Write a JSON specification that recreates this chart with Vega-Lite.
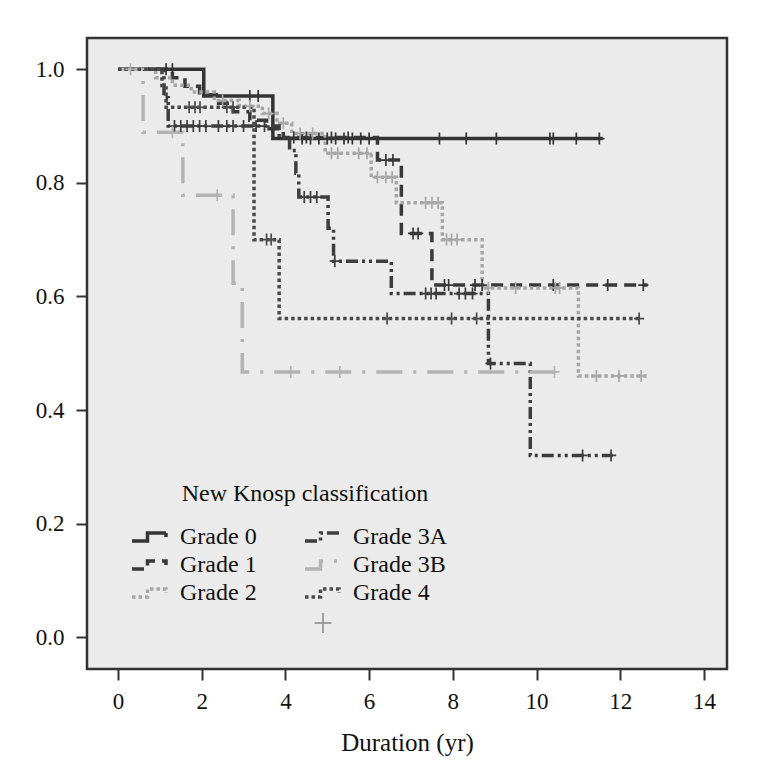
{
  "$schema": "https://vega.github.io/schema/vega-lite/v6.json",
  "width": 640,
  "height": 631,
  "autosize": {"type": "none"},
  "padding": {"left": 87, "top": 38, "right": 39, "bottom": 111},
  "background": "white",
  "config": {
    "font": "Liberation Serif",
    "view": {"fill": "#ebebeb", "stroke": "#333333", "strokeWidth": 2.5},
    "axis": {"grid": false, "domain": false, "tickColor": "#333333", "tickWidth": 2, "tickSize": 11, "labelFontSize": 23, "labelColor": "#111111", "titleFontSize": 25, "titleFontWeight": "normal", "titleColor": "#111111", "labelFont": "Liberation Serif", "titleFont": "Liberation Serif"}
  },
  "datasets": {
    "steps": [
      {"grade": "Grade 0", "t": 0, "s": 1.0},
      {"grade": "Grade 0", "t": 2.05, "s": 0.953},
      {"grade": "Grade 0", "t": 3.7, "s": 0.878},
      {"grade": "Grade 0", "t": 11.58, "s": 0.878},
      {"grade": "Grade 1", "t": 0, "s": 1.0},
      {"grade": "Grade 1", "t": 1.3, "s": 0.985},
      {"grade": "Grade 1", "t": 1.6, "s": 0.97},
      {"grade": "Grade 1", "t": 1.95, "s": 0.955},
      {"grade": "Grade 1", "t": 2.35, "s": 0.94},
      {"grade": "Grade 1", "t": 2.75, "s": 0.925},
      {"grade": "Grade 1", "t": 3.15, "s": 0.91},
      {"grade": "Grade 1", "t": 3.55, "s": 0.895},
      {"grade": "Grade 1", "t": 3.95, "s": 0.88},
      {"grade": "Grade 1", "t": 6.2, "s": 0.84},
      {"grade": "Grade 1", "t": 6.77, "s": 0.711},
      {"grade": "Grade 1", "t": 7.5, "s": 0.62},
      {"grade": "Grade 1", "t": 12.65, "s": 0.62},
      {"grade": "Grade 2", "t": 0, "s": 1.0},
      {"grade": "Grade 2", "t": 0.9, "s": 0.985},
      {"grade": "Grade 2", "t": 1.3, "s": 0.972},
      {"grade": "Grade 2", "t": 1.75, "s": 0.96},
      {"grade": "Grade 2", "t": 2.3, "s": 0.945},
      {"grade": "Grade 2", "t": 2.9, "s": 0.935},
      {"grade": "Grade 2", "t": 3.45, "s": 0.922},
      {"grade": "Grade 2", "t": 3.8, "s": 0.905},
      {"grade": "Grade 2", "t": 4.15, "s": 0.887},
      {"grade": "Grade 2", "t": 4.95, "s": 0.852},
      {"grade": "Grade 2", "t": 6.05, "s": 0.81},
      {"grade": "Grade 2", "t": 6.65, "s": 0.765},
      {"grade": "Grade 2", "t": 7.75, "s": 0.70},
      {"grade": "Grade 2", "t": 8.7, "s": 0.615},
      {"grade": "Grade 2", "t": 11.0, "s": 0.46},
      {"grade": "Grade 2", "t": 12.63, "s": 0.46},
      {"grade": "Grade 3A", "t": 0, "s": 1.0},
      {"grade": "Grade 3A", "t": 1.1, "s": 0.95},
      {"grade": "Grade 3A", "t": 1.2, "s": 0.90},
      {"grade": "Grade 3A", "t": 3.85, "s": 0.88},
      {"grade": "Grade 3A", "t": 4.1, "s": 0.857},
      {"grade": "Grade 3A", "t": 4.25, "s": 0.817},
      {"grade": "Grade 3A", "t": 4.32, "s": 0.775},
      {"grade": "Grade 3A", "t": 5.02, "s": 0.72},
      {"grade": "Grade 3A", "t": 5.15, "s": 0.662},
      {"grade": "Grade 3A", "t": 6.53, "s": 0.605},
      {"grade": "Grade 3A", "t": 8.85, "s": 0.482},
      {"grade": "Grade 3A", "t": 9.85, "s": 0.32},
      {"grade": "Grade 3A", "t": 11.82, "s": 0.32},
      {"grade": "Grade 3B", "t": 0, "s": 1.0},
      {"grade": "Grade 3B", "t": 0.6, "s": 0.889},
      {"grade": "Grade 3B", "t": 1.55, "s": 0.778},
      {"grade": "Grade 3B", "t": 2.75, "s": 0.623},
      {"grade": "Grade 3B", "t": 2.97, "s": 0.467},
      {"grade": "Grade 3B", "t": 10.48, "s": 0.467},
      {"grade": "Grade 4", "t": 0, "s": 1.0},
      {"grade": "Grade 4", "t": 1.05, "s": 0.967},
      {"grade": "Grade 4", "t": 1.15, "s": 0.933},
      {"grade": "Grade 4", "t": 3.25, "s": 0.70},
      {"grade": "Grade 4", "t": 3.85, "s": 0.561},
      {"grade": "Grade 4", "t": 12.5, "s": 0.561}
    ],
    "cens": [
      {"grade": "Grade 0", "t": 1.15, "s": 1.0, "kind": "cens"},
      {"grade": "Grade 0", "t": 1.3, "s": 1.0, "kind": "cens"},
      {"grade": "Grade 0", "t": 3.15, "s": 0.953, "kind": "cens"},
      {"grade": "Grade 0", "t": 3.35, "s": 0.953, "kind": "cens"},
      {"grade": "Grade 0", "t": 4.4, "s": 0.878, "kind": "cens"},
      {"grade": "Grade 0", "t": 4.6, "s": 0.878, "kind": "cens"},
      {"grade": "Grade 0", "t": 4.8, "s": 0.878, "kind": "cens"},
      {"grade": "Grade 0", "t": 5.0, "s": 0.878, "kind": "cens"},
      {"grade": "Grade 0", "t": 5.2, "s": 0.878, "kind": "cens"},
      {"grade": "Grade 0", "t": 5.4, "s": 0.878, "kind": "cens"},
      {"grade": "Grade 0", "t": 5.6, "s": 0.878, "kind": "cens"},
      {"grade": "Grade 0", "t": 5.8, "s": 0.878, "kind": "cens"},
      {"grade": "Grade 0", "t": 6.0, "s": 0.878, "kind": "cens"},
      {"grade": "Grade 0", "t": 7.68, "s": 0.878, "kind": "cens"},
      {"grade": "Grade 0", "t": 8.32, "s": 0.878, "kind": "cens"},
      {"grade": "Grade 0", "t": 9.04, "s": 0.878, "kind": "cens"},
      {"grade": "Grade 0", "t": 10.32, "s": 0.878, "kind": "cens"},
      {"grade": "Grade 0", "t": 10.4, "s": 0.878, "kind": "cens"},
      {"grade": "Grade 0", "t": 10.95, "s": 0.878, "kind": "cens"},
      {"grade": "Grade 0", "t": 11.5, "s": 0.878, "kind": "cens"},
      {"grade": "Grade 1", "t": 4.2, "s": 0.88, "kind": "cens"},
      {"grade": "Grade 1", "t": 4.5, "s": 0.88, "kind": "cens"},
      {"grade": "Grade 1", "t": 5.1, "s": 0.88, "kind": "cens"},
      {"grade": "Grade 1", "t": 5.5, "s": 0.88, "kind": "cens"},
      {"grade": "Grade 1", "t": 6.4, "s": 0.84, "kind": "cens"},
      {"grade": "Grade 1", "t": 6.57, "s": 0.84, "kind": "cens"},
      {"grade": "Grade 1", "t": 7.05, "s": 0.711, "kind": "cens"},
      {"grade": "Grade 1", "t": 7.17, "s": 0.711, "kind": "cens"},
      {"grade": "Grade 1", "t": 7.8, "s": 0.62, "kind": "cens"},
      {"grade": "Grade 1", "t": 7.9, "s": 0.62, "kind": "cens"},
      {"grade": "Grade 1", "t": 8.53, "s": 0.62, "kind": "cens"},
      {"grade": "Grade 1", "t": 8.7, "s": 0.62, "kind": "cens"},
      {"grade": "Grade 1", "t": 10.4, "s": 0.62, "kind": "cens"},
      {"grade": "Grade 1", "t": 11.7, "s": 0.62, "kind": "cens"},
      {"grade": "Grade 1", "t": 12.55, "s": 0.62, "kind": "cens"},
      {"grade": "Grade 2", "t": 2.5, "s": 0.945, "kind": "cens"},
      {"grade": "Grade 2", "t": 3.15, "s": 0.935, "kind": "cens"},
      {"grade": "Grade 2", "t": 3.6, "s": 0.922, "kind": "cens"},
      {"grade": "Grade 2", "t": 3.95, "s": 0.905, "kind": "cens"},
      {"grade": "Grade 2", "t": 4.35, "s": 0.887, "kind": "cens"},
      {"grade": "Grade 2", "t": 4.65, "s": 0.887, "kind": "cens"},
      {"grade": "Grade 2", "t": 5.1, "s": 0.852, "kind": "cens"},
      {"grade": "Grade 2", "t": 5.25, "s": 0.852, "kind": "cens"},
      {"grade": "Grade 2", "t": 5.75, "s": 0.852, "kind": "cens"},
      {"grade": "Grade 2", "t": 5.95, "s": 0.852, "kind": "cens"},
      {"grade": "Grade 2", "t": 6.2, "s": 0.81, "kind": "cens"},
      {"grade": "Grade 2", "t": 6.4, "s": 0.81, "kind": "cens"},
      {"grade": "Grade 2", "t": 6.55, "s": 0.81, "kind": "cens"},
      {"grade": "Grade 2", "t": 7.35, "s": 0.765, "kind": "cens"},
      {"grade": "Grade 2", "t": 7.5, "s": 0.765, "kind": "cens"},
      {"grade": "Grade 2", "t": 7.65, "s": 0.765, "kind": "cens"},
      {"grade": "Grade 2", "t": 7.85, "s": 0.70, "kind": "cens"},
      {"grade": "Grade 2", "t": 7.97, "s": 0.70, "kind": "cens"},
      {"grade": "Grade 2", "t": 8.1, "s": 0.70, "kind": "cens"},
      {"grade": "Grade 2", "t": 8.85, "s": 0.615, "kind": "cens"},
      {"grade": "Grade 2", "t": 9.5, "s": 0.615, "kind": "cens"},
      {"grade": "Grade 2", "t": 10.45, "s": 0.615, "kind": "cens"},
      {"grade": "Grade 2", "t": 10.55, "s": 0.615, "kind": "cens"},
      {"grade": "Grade 2", "t": 11.43, "s": 0.46, "kind": "cens"},
      {"grade": "Grade 2", "t": 11.97, "s": 0.46, "kind": "cens"},
      {"grade": "Grade 2", "t": 12.5, "s": 0.46, "kind": "cens"},
      {"grade": "Grade 3A", "t": 1.35, "s": 0.90, "kind": "cens"},
      {"grade": "Grade 3A", "t": 1.5, "s": 0.90, "kind": "cens"},
      {"grade": "Grade 3A", "t": 1.65, "s": 0.90, "kind": "cens"},
      {"grade": "Grade 3A", "t": 1.8, "s": 0.90, "kind": "cens"},
      {"grade": "Grade 3A", "t": 1.95, "s": 0.90, "kind": "cens"},
      {"grade": "Grade 3A", "t": 2.1, "s": 0.90, "kind": "cens"},
      {"grade": "Grade 3A", "t": 2.4, "s": 0.90, "kind": "cens"},
      {"grade": "Grade 3A", "t": 2.6, "s": 0.90, "kind": "cens"},
      {"grade": "Grade 3A", "t": 2.75, "s": 0.90, "kind": "cens"},
      {"grade": "Grade 3A", "t": 3.0, "s": 0.90, "kind": "cens"},
      {"grade": "Grade 3A", "t": 3.3, "s": 0.90, "kind": "cens"},
      {"grade": "Grade 3A", "t": 3.5, "s": 0.90, "kind": "cens"},
      {"grade": "Grade 3A", "t": 4.45, "s": 0.775, "kind": "cens"},
      {"grade": "Grade 3A", "t": 4.6, "s": 0.775, "kind": "cens"},
      {"grade": "Grade 3A", "t": 4.75, "s": 0.775, "kind": "cens"},
      {"grade": "Grade 3A", "t": 5.18, "s": 0.662, "kind": "cens"},
      {"grade": "Grade 3A", "t": 7.35, "s": 0.605, "kind": "cens"},
      {"grade": "Grade 3A", "t": 7.48, "s": 0.605, "kind": "cens"},
      {"grade": "Grade 3A", "t": 7.6, "s": 0.605, "kind": "cens"},
      {"grade": "Grade 3A", "t": 8.15, "s": 0.605, "kind": "cens"},
      {"grade": "Grade 3A", "t": 8.3, "s": 0.605, "kind": "cens"},
      {"grade": "Grade 3A", "t": 8.47, "s": 0.605, "kind": "cens"},
      {"grade": "Grade 3A", "t": 8.9, "s": 0.482, "kind": "cens"},
      {"grade": "Grade 3A", "t": 11.1, "s": 0.32, "kind": "cens"},
      {"grade": "Grade 3A", "t": 11.78, "s": 0.32, "kind": "cens"},
      {"grade": "Grade 3B", "t": 0.3, "s": 1.0, "kind": "cens"},
      {"grade": "Grade 3B", "t": 1.3, "s": 0.889, "kind": "cens"},
      {"grade": "Grade 3B", "t": 2.37, "s": 0.778, "kind": "cens"},
      {"grade": "Grade 3B", "t": 4.13, "s": 0.467, "kind": "cens"},
      {"grade": "Grade 3B", "t": 5.3, "s": 0.467, "kind": "cens"},
      {"grade": "Grade 3B", "t": 10.43, "s": 0.467, "kind": "cens"},
      {"grade": "Grade 4", "t": 1.7, "s": 0.933, "kind": "cens"},
      {"grade": "Grade 4", "t": 1.84, "s": 0.933, "kind": "cens"},
      {"grade": "Grade 4", "t": 1.96, "s": 0.933, "kind": "cens"},
      {"grade": "Grade 4", "t": 2.6, "s": 0.933, "kind": "cens"},
      {"grade": "Grade 4", "t": 2.75, "s": 0.933, "kind": "cens"},
      {"grade": "Grade 4", "t": 3.55, "s": 0.70, "kind": "cens"},
      {"grade": "Grade 4", "t": 3.66, "s": 0.70, "kind": "cens"},
      {"grade": "Grade 4", "t": 6.43, "s": 0.561, "kind": "cens"},
      {"grade": "Grade 4", "t": 7.97, "s": 0.561, "kind": "cens"},
      {"grade": "Grade 4", "t": 8.57, "s": 0.561, "kind": "cens"},
      {"grade": "Grade 4", "t": 12.45, "s": 0.561, "kind": "cens"}
    ]
  },
  "layer": [
    {
      "data": {"name": "steps"},
      "mark": {"type": "line", "interpolate": "step-after", "strokeWidth": 3.5},
      "encoding": {
        "x": {"field": "t", "type": "quantitative", "scale": {"domain": [-0.74, 14.55], "nice": false, "zero": false}, "axis": {"values": [0, 2, 4, 6, 8, 10, 12, 14], "title": "Duration (yr)", "labelPadding": 10, "titlePadding": 17}},
        "y": {"field": "s", "type": "quantitative", "scale": {"domain": [-0.056, 1.055], "nice": false, "zero": false}, "axis": {"values": [0, 0.2, 0.4, 0.6, 0.8, 1.0], "format": ".1f", "title": null, "labelPadding": 12}},
        "color": {
          "field": "grade", "type": "nominal",
          "scale": {"domain": ["Grade 0", "Grade 1", "Grade 2", "Grade 3A", "Grade 3B", "Grade 4"], "range": ["#333333", "#383838", "#a6a6a6", "#3d3d3d", "#b3b3b3", "#4a4a4a"]},
          "legend": {"title": "New Knosp classification", "orient": "none", "legendX": 52, "legendY": 444, "columns": 2, "symbolType": "M-1.9,0.4H-0.35V-0.4H1.5V0", "symbolSize": 400, "symbolStrokeWidth": 3.5, "labelOffset": 17, "rowPadding": 4, "columnPadding": 41, "titleAnchor": "middle", "titlePadding": 19, "titleFontSize": 24, "titleFontWeight": "normal", "titleColor": "#111111", "labelFontSize": 24, "labelColor": "#111111", "titleLimit": 400, "labelLimit": 300, "symbolFillColor": "transparent",
            "encode": {"title": {"update": {"dx": {"value": 12}}}}}
        },
        "strokeDash": {
          "field": "grade", "type": "nominal",
          "scale": {"domain": ["Grade 0", "Grade 1", "Grade 2", "Grade 3A", "Grade 3B", "Grade 4"], "range": [[1, 0], [12, 7], [3.5, 3], [12, 4, 3, 4, 3, 4], [26, 11, 3, 11], [3.5, 3]]}
        }
      }
    },
    {
      "data": {"name": "cens"},
      "mark": {"type": "point", "filled": false, "strokeWidth": 1.7, "size": 144, "opacity": 1},
      "encoding": {
        "x": {"field": "t", "type": "quantitative"},
        "y": {"field": "s", "type": "quantitative"},
        "stroke": {
          "field": "grade", "type": "nominal",
          "scale": {"domain": ["Grade 0", "Grade 1", "Grade 2", "Grade 3A", "Grade 3B", "Grade 4"], "range": ["#333333", "#383838", "#a6a6a6", "#3d3d3d", "#b3b3b3", "#4a4a4a"]},
          "legend": null
        },
        "shape": {
          "field": "kind", "type": "nominal",
          "scale": {"domain": ["cens"], "range": ["M-0.85,0H0.85M0,-1V1"]},
          "legend": {"title": null, "orient": "none", "legendX": 224, "legendY": 573, "labelExpr": "''", "symbolSize": 400, "labelFontSize": 24,
            "encode": {"symbols": {"update": {"shape": {"value": "M-1.85,0H1.85M0,-0.75V0.75"}, "stroke": {"value": "#333333"}, "strokeWidth": {"value": 1.7}, "fill": {"value": "transparent"}, "size": {"value": 400}, "opacity": {"value": 1}}}}}
        }
      }
    }
  ]
}
